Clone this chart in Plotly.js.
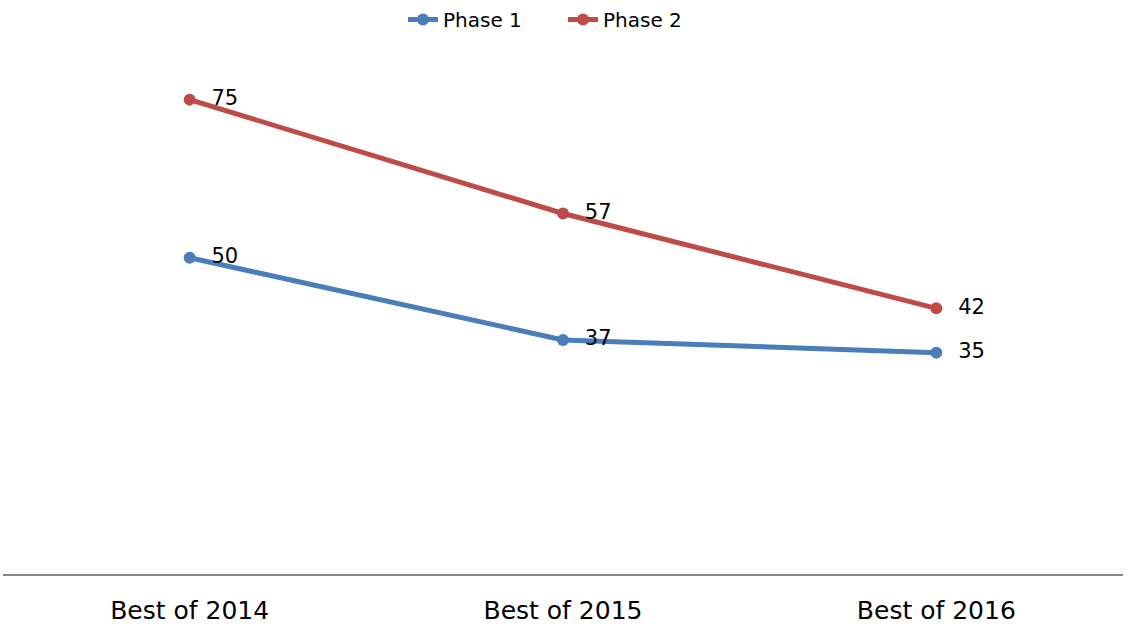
<!DOCTYPE html>
<html>
<head>
<meta charset="utf-8">
<script src="https://cdn.plot.ly/plotly-3.0.1.min.js"></script>
<style>html,body{margin:0;padding:0;background:#fff;}#chart{width:1125px;height:625px;}</style>
</head>
<body>
<div id="chart"></div>
<script>
const categories = ["Best of 2014", "Best of 2015", "Best of 2016"];
const phase1 = [50, 37, 35];
const phase2 = [75, 57, 42];
const seriesNames = ["Phase 1", "Phase 2"];

const colors = ["#4A7EBB", "#BE4B48"];
function mk(name, vals, color) {
  return {
    type: "scatter", mode: "lines+markers+text", name: name,
    x: categories, y: vals,
    text: vals.map(v => "\u00a0\u00a0" + v),
    textposition: "middle right",
    textfont: {family: "DejaVu Sans", size: 21, color: "#000"},
    line: {color: color, width: 5},
    marker: {color: color, size: 12},
    cliponaxis: false
  };
}
const data = [mk(seriesNames[0], phase1, colors[0]), mk(seriesNames[1], phase2, colors[1])];
const layout = {
  width: 1125, height: 625,
  margin: {l: 3, r: 2, t: 68, b: 51},
  paper_bgcolor: "#fff", plot_bgcolor: "#fff",
  font: {family: "DejaVu Sans", color: "#000"},
  showlegend: true,
  legend: {orientation: "h", x: 0.5, xanchor: "center", yref: "container", y: 1, yanchor: "top",
    font: {family: "DejaVu Sans", size: 20}, entrywidth: 115, entrywidthmode: "pixels"},
  xaxis: {type: "category", range: [-0.5, 2.5], showgrid: false, zeroline: false,
    showline: true, linecolor: "#868686", linewidth: 2, ticks: "",
    tickfont: {family: "DejaVu Sans", size: 25}, ticklabelstandoff: 13, fixedrange: true},
  yaxis: {range: [0, 80], showgrid: false, zeroline: false, showline: false,
    showticklabels: false, ticks: "", fixedrange: true}
};
Plotly.newPlot("chart", data, layout, {displayModeBar: false, staticPlot: true});
</script>
</body>
</html>
